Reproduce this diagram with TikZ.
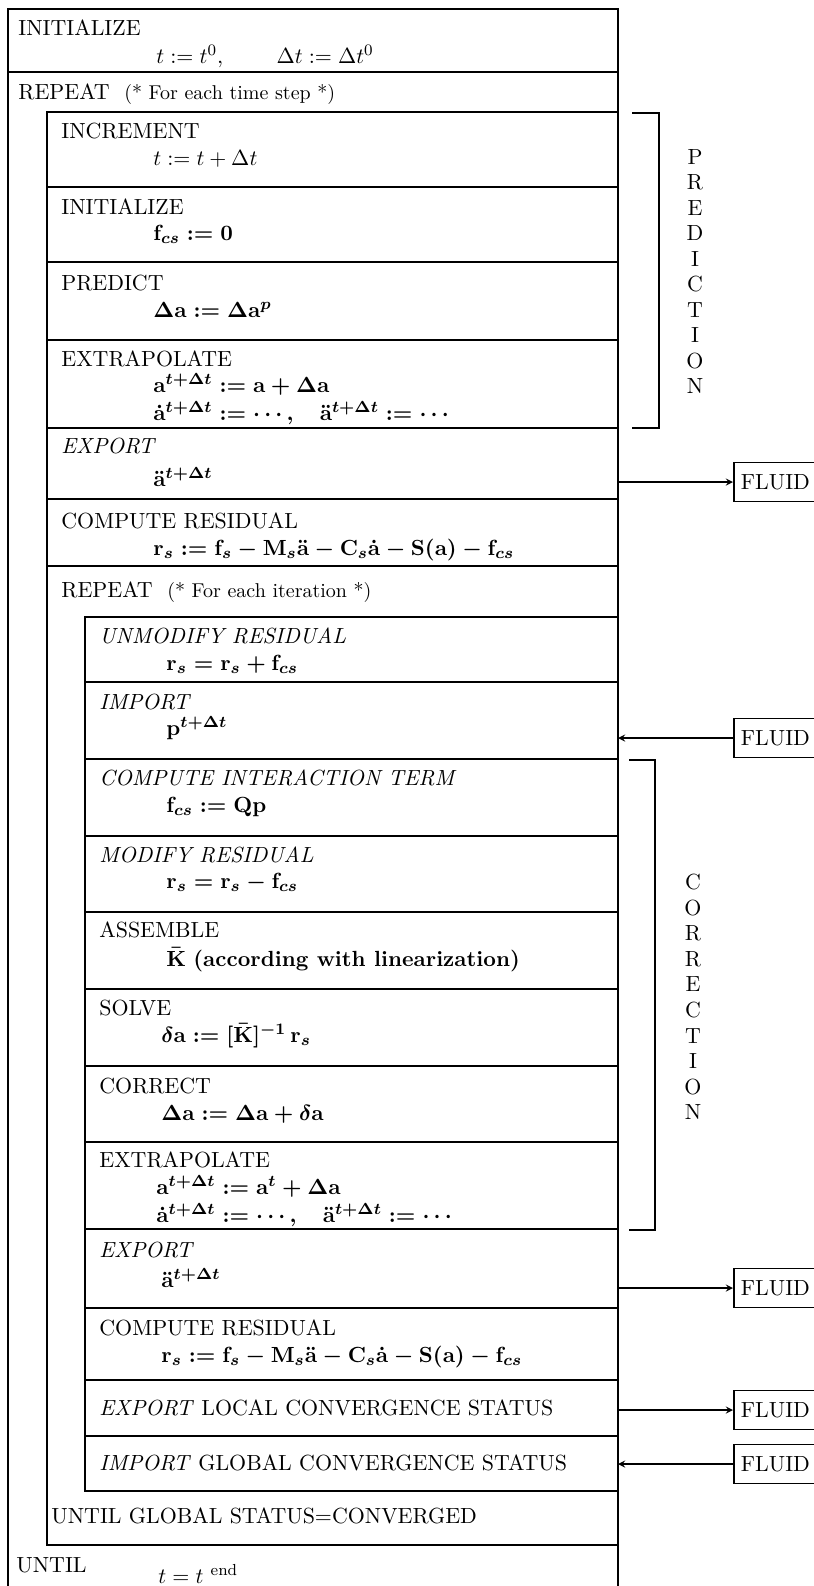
\documentclass[tikz,border=0pt,11pt]{standalone}
\usetikzlibrary{arrows}

\begin{document}
\begin{tikzpicture}[x=0.5pt,y=-0.5pt,>=stealth]
  \tikzstyle{nsline}=[line width=0.9pt]
  \tikzstyle{hdr}=[anchor=base west, inner sep=0pt]
  \tikzstyle{ihdr}=[hdr, font=\itshape]
  \tikzstyle{beqn}=[hdr, font=\boldmath]
  \tikzstyle{fluidbox}=[draw, line width=0.9pt, anchor=west, minimum height=19.5pt,
    text width=52pt, inner xsep=3.5pt, align=left]
  \tikzstyle{link}=[->, line width=0.6pt]
  \tikzstyle{letter}=[inner sep=0pt]

  \useasboundingbox (0,0) rectangle (814,1586);
  \clip (0,0) rectangle (814,1586);

  % Outer frame
  \draw[nsline] (8,1600) -- (8,9) -- (618,9) -- (618,1600);
  \draw[nsline] (8,72) -- (618,72);
  % Time step loop
  \draw[nsline] (618,112) -- (47,112) -- (47,1545) -- (618,1545);
  \foreach \y in {187,262,340,428,499,566}
    \draw[nsline] (47,\y) -- (618,\y);
  % Iteration loop
  \draw[nsline] (618,617) -- (85,617) -- (85,1491) -- (618,1491);
  \foreach \y in {682,759,836,912,989,1066,1142,1229,1308,1380,1436}
    \draw[nsline] (85,\y) -- (618,\y);

  % Outer level
  \node[hdr] (init) at (18,35) {INITIALIZE};
  \node[hdr] (initeq) at (156,63) {$t := t^0,\qquad\; \Delta t := \Delta t^0$};
  \node[hdr] (rep) at (18,99) {REPEAT\ \ {\small(* For each time step *)}};
  \node[hdr] (until) at (16,1572) {UNTIL};
  \node[hdr] (untileq) at (158,1583) {$t = t^{\ \mathrm{end}}$};

  % Time step level
  \node[hdr] (incr) at (61,138) {INCREMENT};
  \node[hdr] (increq) at (153,165) {$t := t + \Delta t$};
  \node[hdr] (init2) at (61,214) {INITIALIZE};
  \node[beqn] (init2eq) at (153,240) {$\mathbf{f}_{cs} := \mathbf{0}$};
  \node[hdr] (pred) at (61,290) {PREDICT};
  \node[beqn] (predeq) at (153,317) {$\Delta\mathbf{a} := \Delta\mathbf{a}^{p}$};
  \node[hdr] (extr) at (61,366) {EXTRAPOLATE};
  \node[beqn] (extreqa) at (153,392) {$\mathbf{a}^{t+\Delta t} := \mathbf{a} + \Delta\mathbf{a}$};
  \node[beqn] (extreqb) at (153,420) {$\dot{\mathbf{a}}^{t+\Delta t} := \cdots,\quad \ddot{\mathbf{a}}^{t+\Delta t} := \cdots$};
  \node[ihdr] (exp) at (61,453) {EXPORT};
  \node[beqn] (expeq) at (153,486) {$\ddot{\mathbf{a}}^{t+\Delta t}$};
  \node[hdr] (res) at (61,528) {COMPUTE RESIDUAL};
  \node[beqn] (reseq) at (153,555) {$\mathbf{r}_s := \mathbf{f}_s - \mathbf{M}_s\ddot{\mathbf{a}} - \mathbf{C}_s\dot{\mathbf{a}} - \mathbf{S}(\mathbf{a}) - \mathbf{f}_{cs}$};
  \node[hdr] (rep2) at (61,597) {REPEAT\ \ {\small(* For each iteration *)}};
  \node[hdr] (until2) at (51,1523) {UNTIL GLOBAL STATUS=CONVERGED};

  % Iteration level
  \node[ihdr] (unmod) at (99,643) {UNMODIFY RESIDUAL};
  \node[beqn] (unmodeq) at (166,670) {$\mathbf{r}_s = \mathbf{r}_s + \mathbf{f}_{cs}$};
  \node[ihdr] (imp) at (99,709) {IMPORT};
  \node[beqn] (impeq) at (166,735) {$\mathbf{p}^{t+\Delta t}$};
  \node[ihdr] (inter) at (99,785) {COMPUTE INTERACTION TERM};
  \node[beqn] (intereq) at (166,812) {$\mathbf{f}_{cs} := \mathbf{Q}\mathbf{p}$};
  \node[ihdr] (mod) at (99,862) {MODIFY RESIDUAL};
  \node[beqn] (modeq) at (166,888) {$\mathbf{r}_s = \mathbf{r}_s - \mathbf{f}_{cs}$};
  \node[hdr] (asm) at (99,937) {ASSEMBLE};
  \node[beqn] (asmeq) at (166,966) {$\bar{\mathbf{K}}$ \textbf{(according with linearization)}};
  \node[hdr] (solve) at (99,1015) {SOLVE};
  \node[beqn] (solveeq) at (161,1042) {$\delta\mathbf{a} := [\bar{\mathbf{K}}]^{-1}\,\mathbf{r}_s$};
  \node[hdr] (corr) at (99,1093) {CORRECT};
  \node[beqn] (correq) at (161,1120) {$\Delta\mathbf{a} := \Delta\mathbf{a} + \delta\mathbf{a}$};
  \node[hdr] (extr2) at (99,1167) {EXTRAPOLATE};
  \node[beqn] (extr2eqa) at (156,1194) {$\mathbf{a}^{t+\Delta t} := \mathbf{a}^{t} + \Delta\mathbf{a}$};
  \node[beqn] (extr2eqb) at (156,1222) {$\dot{\mathbf{a}}^{t+\Delta t} := \cdots,\quad \ddot{\mathbf{a}}^{t+\Delta t} := \cdots$};
  \node[ihdr] (exp2) at (99,1257) {EXPORT};
  \node[beqn] (exp2eq) at (161,1287) {$\ddot{\mathbf{a}}^{t+\Delta t}$};
  \node[hdr] (res2) at (99,1335) {COMPUTE RESIDUAL};
  \node[beqn] (res2eq) at (161,1362) {$\mathbf{r}_s := \mathbf{f}_s - \mathbf{M}_s\ddot{\mathbf{a}} - \mathbf{C}_s\dot{\mathbf{a}} - \mathbf{S}(\mathbf{a}) - \mathbf{f}_{cs}$};
  \node[hdr] (explocal) at (99,1415) {\textit{EXPORT} LOCAL CONVERGENCE STATUS};
  \node[hdr] (impglobal) at (99,1470) {\textit{IMPORT} GLOBAL CONVERGENCE STATUS};

  % Prediction / correction brackets
  \draw[nsline] (632,113) -- (659,113) -- (659,428) -- (632,428);
  \draw[nsline] (629,760) -- (655,760) -- (655,1230) -- (629,1230);
  \foreach \ch [count=\k from 0] in {P,R,E,D,I,C,T,I,O,N}
    \node[letter] (pred\k) at (695,{157+25.5*\k}) {\ch};
  \foreach \ch [count=\k from 0] in {C,O,R,R,E,C,T,I,O,N}
    \node[letter] (corr\k) at (693,{882+25.6*\k}) {\ch};

  % Fluid side
  \node[fluidbox] (fluid1) at (733,482) {FLUID};
  \node[fluidbox] (fluid2) at (733,738) {FLUID};
  \node[fluidbox] (fluid3) at (733,1288) {FLUID};
  \node[fluidbox] (fluid4) at (733,1410) {FLUID};
  \node[fluidbox] (fluid5) at (733,1464) {FLUID};
  \coordinate (out1) at (618,482);
  \coordinate (in1) at (618,738);
  \coordinate (out2) at (618,1288);
  \coordinate (out3) at (618,1410);
  \coordinate (in2) at (618,1464);

  \draw[link] (out1) -- (fluid1);
  \draw[link] (fluid2) -- (in1);
  \draw[link] (out2) -- (fluid3);
  \draw[link] (out3) -- (fluid4);
  \draw[link] (fluid5) -- (in2);
\end{tikzpicture}
\end{document}
